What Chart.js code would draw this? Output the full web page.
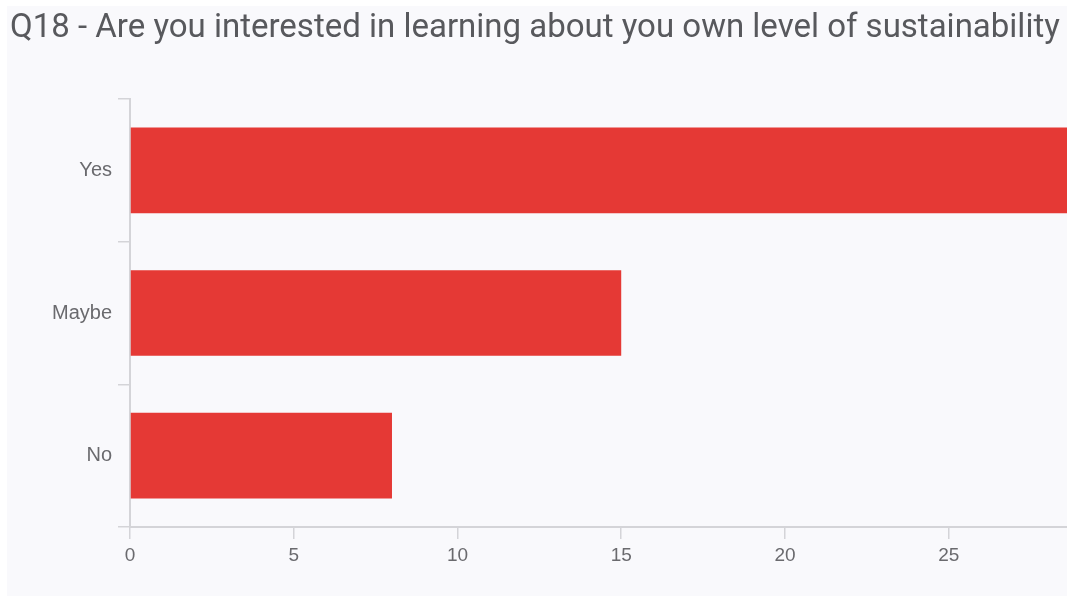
<!DOCTYPE html>
<html>
<head>
<meta charset="utf-8">
<script src="https://cdn.jsdelivr.net/npm/chart.js@4.4.0/dist/chart.umd.min.js"></script>
<style>
  html, body { margin: 0; padding: 0; background: #fff; overflow: hidden; }
  #panel { position: absolute; left: 7px; top: 6px; width: 1200px; height: 700px; background: #f9f9fc; }
  #q18 { position: absolute; left: 0; top: 0; }
</style>
</head>
<body>
<div id="panel"></div>
<canvas id="q18" width="1128" height="596"></canvas>
<script>
  var answers = ['Yes', 'Maybe', 'No'];
  var counts = [29, 15, 8];
  var xTicks = [0, 5, 10, 15, 20, 25, 30];

  var axisGrey = '#d4d4d8';
  var labelGrey = '#6a6a6e';

  var ctx = document.getElementById('q18');
  var chartQ18 = new Chart(ctx, {
    type: 'bar',
    data: {
      labels: answers,
      datasets: [{
        label: 'Responses',
        data: counts,
        backgroundColor: '#e53935',
        borderWidth: 0,
        barPercentage: 0.6,
        categoryPercentage: 1
      }]
    },
    options: {
      indexAxis: 'y',
      responsive: false,
      animation: false,
      devicePixelRatio: 1,
      layout: { padding: { left: 10, right: 0, top: 0, bottom: 0 } },
      plugins: {
        legend: { display: false },
        tooltip: { enabled: false },
        title: {
          display: true,
          align: 'start',
          text: 'Q18 - Are you interested in learning about you own level of sustainability',
          color: '#58595d',
          font: { family: 'Roboto', size: 33, weight: 'normal' },
          padding: { top: 9, bottom: 50.4 }
        }
      },
      scales: {
        x: {
          min: 0,
          max: 30,
          afterBuildTicks: function(scale) {
            scale.ticks = xTicks.map(function(v) { return { value: v }; });
          },
          afterFit: function(scale) { scale.height = 69; },
          border: { color: axisGrey, width: 2 },
          grid: { drawOnChartArea: false, drawTicks: true, tickLength: 12, color: axisGrey, lineWidth: 1.5 },
          ticks: {
            color: labelGrey,
            padding: 5,
            font: { family: 'Liberation Sans', size: 19 }
          }
        },
        y: {
          afterFit: function(scale) { scale.width = 120; },
          border: { color: axisGrey, width: 2 },
          grid: { offset: true, drawOnChartArea: false, drawTicks: true, tickLength: 12, color: axisGrey, lineWidth: 1.5 },
          ticks: {
            color: labelGrey,
            padding: 6,
            font: { family: 'Liberation Sans', size: 20 }
          }
        }
      }
    }
  });
</script>
</body>
</html>
